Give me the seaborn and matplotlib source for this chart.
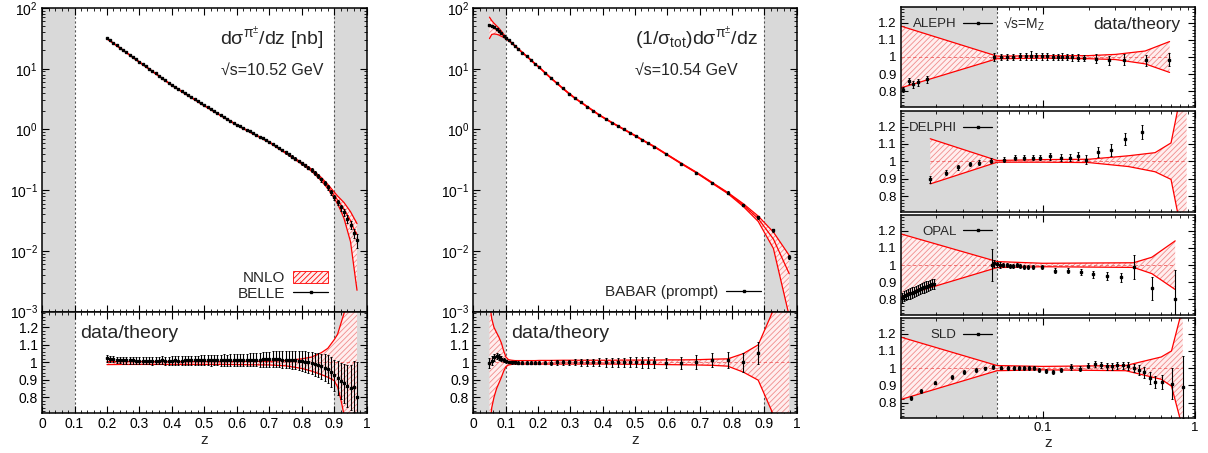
import matplotlib
matplotlib.use("Agg")
import numpy as np
import matplotlib.pyplot as plt
from matplotlib.lines import Line2D
from matplotlib.patches import Patch
from matplotlib.ticker import (FixedLocator, FuncFormatter, LogLocator,
                               MultipleLocator, NullFormatter)
import seaborn as sns

# ---------------- data ----------------
# BELLE, sqrt(s)=10.52 GeV
belle_z = [0.20, 0.21, 0.22, 0.23, 0.24, 0.25, 0.26, 0.27, 0.28, 0.29,
           0.30, 0.31, 0.32, 0.33, 0.34, 0.35, 0.36, 0.37, 0.38, 0.39,
           0.40, 0.41, 0.42, 0.43, 0.44, 0.45, 0.46, 0.47, 0.48, 0.49,
           0.50, 0.51, 0.52, 0.53, 0.54, 0.55, 0.56, 0.57, 0.58, 0.59,
           0.60, 0.61, 0.62, 0.63, 0.64, 0.65, 0.66, 0.67, 0.68, 0.69,
           0.70, 0.71, 0.72, 0.73, 0.74, 0.75, 0.76, 0.77, 0.78, 0.79,
           0.80, 0.81, 0.82, 0.83, 0.84, 0.85, 0.86, 0.87, 0.88, 0.89,
           0.90, 0.91, 0.92, 0.93, 0.94, 0.95, 0.96, 0.97]
belle_xsec = [32.0, 29.3, 26.7, 24.4, 22.3, 20.4, 18.7, 17.1, 15.6, 14.2,
              13.0, 11.9, 10.9, 10.0, 9.15, 8.38, 7.67, 7.03, 6.44, 5.90,
              5.40, 5.00, 4.63, 4.29, 3.97, 3.68, 3.40, 3.15, 2.92, 2.70,
              2.50, 2.32, 2.16, 2.00, 1.86, 1.73, 1.61, 1.49, 1.39, 1.29,
              1.20, 1.125, 1.055, 0.989, 0.927, 0.869, 0.815, 0.764, 0.716, 0.672,
              0.630, 0.581, 0.536, 0.494, 0.455, 0.420, 0.387, 0.357, 0.329, 0.303,
              0.280, 0.258, 0.236, 0.215, 0.192, 0.170, 0.150, 0.130, 0.111, 0.092,
              0.076, 0.063, 0.052, 0.043, 0.034, 0.027, 0.020, 0.015]
belle_ratio = [1.022, 1.020, 1.018, 1.015, 1.013, 1.012, 1.012, 1.011, 1.011, 1.010,
               1.010, 1.009, 1.010, 1.010, 1.009, 1.010, 1.010, 1.011, 1.010, 1.010,
               1.010, 1.011, 1.010, 1.010, 1.011, 1.012, 1.011, 1.012, 1.011, 1.012,
               1.012, 1.012, 1.011, 1.012, 1.013, 1.012, 1.013, 1.012, 1.013, 1.013,
               1.013, 1.014, 1.013, 1.014, 1.015, 1.015, 1.016, 1.016, 1.017, 1.017,
               1.018, 1.018, 1.017, 1.017, 1.016, 1.015, 1.015, 1.013, 1.012, 1.010,
               1.008, 1.004, 1.000, 0.995, 0.990, 0.985, 0.978, 0.970, 0.960, 0.945,
               0.925, 0.910, 0.895, 0.880, 0.865, 0.855, 0.860, 0.800]
belle_err = [0.018, 0.018, 0.018, 0.018, 0.019, 0.019, 0.019, 0.020, 0.020, 0.020,
             0.020, 0.021, 0.021, 0.021, 0.022, 0.022, 0.022, 0.023, 0.023, 0.023,
             0.024, 0.024, 0.025, 0.025, 0.026, 0.026, 0.027, 0.027, 0.028, 0.028,
             0.029, 0.029, 0.030, 0.030, 0.031, 0.031, 0.032, 0.032, 0.033, 0.033,
             0.034, 0.035, 0.035, 0.036, 0.037, 0.038, 0.039, 0.040, 0.041, 0.042,
             0.043, 0.044, 0.045, 0.046, 0.047, 0.048, 0.049, 0.050, 0.052, 0.054,
             0.056, 0.058, 0.060, 0.063, 0.066, 0.069, 0.072, 0.076, 0.080, 0.085,
             0.090, 0.096, 0.103, 0.110, 0.120, 0.130, 0.145, 0.200]
belle_band_z = [0.20, 0.25, 0.30, 0.35, 0.40, 0.45, 0.50, 0.55, 0.60, 0.65,
                0.70, 0.75, 0.80, 0.83, 0.86, 0.88, 0.90, 0.91, 0.92, 0.93,
                0.95, 0.97]
belle_band_lo = [0.987, 0.988, 0.988, 0.988, 0.988, 0.988, 0.988, 0.988, 0.987, 0.986,
                 0.985, 0.980, 0.965, 0.950, 0.930, 0.915, 0.895, 0.860, 0.790, 0.700,
                 0.450, 0.120]
belle_band_hi = [1.004, 1.004, 1.004, 1.004, 1.004, 1.004, 1.004, 1.004, 1.005, 1.005,
                 1.006, 1.010, 1.020, 1.030, 1.055, 1.080, 1.130, 1.160, 1.220, 1.280,
                 1.400, 1.500]

# BABAR (prompt), sqrt(s)=10.54 GeV
babar_z = [0.050, 0.057, 0.064, 0.072, 0.079, 0.087, 0.094, 0.101, 0.109, 0.119,
           0.129, 0.139, 0.152, 0.165, 0.178, 0.191, 0.204, 0.222, 0.240, 0.258,
           0.277, 0.296, 0.314, 0.333, 0.352, 0.371, 0.390, 0.409, 0.428, 0.447,
           0.466, 0.485, 0.504, 0.523, 0.541, 0.560, 0.597, 0.643, 0.690, 0.739,
           0.787, 0.835, 0.881, 0.928, 0.977]
babar_val = [52.0, 50.0, 48.0, 45.0, 42.0, 38.0, 35.0, 32.0, 29.4, 26.4,
             23.7, 21.2, 18.4, 16.0, 13.9, 12.0, 10.5, 8.5, 7.0, 5.8,
             4.73, 3.86, 3.28, 2.79, 2.38, 2.02, 1.72, 1.49, 1.30, 1.14,
             1.00, 0.88, 0.77, 0.67, 0.59, 0.52, 0.39, 0.275, 0.195, 0.133,
             0.091, 0.057, 0.036, 0.022, 0.008]
babar_ratio = [0.995, 1.010, 1.028, 1.037, 1.030, 1.020, 1.013, 1.005, 1.002, 1.000,
               1.000, 0.999, 0.999, 0.998, 0.998, 0.998, 0.998, 0.999, 0.999, 1.000,
               1.000, 1.000, 1.000, 1.000, 1.000, 1.000, 1.000, 1.000, 1.000, 1.000,
               1.000, 1.000, 1.000, 1.000, 1.000, 1.000, 0.997, 0.998, 1.000, 1.012,
               1.013, 1.000, 1.056, 1.400, 1.900]
babar_err = [0.030, 0.025, 0.020, 0.018, 0.016, 0.014, 0.012, 0.010, 0.008, 0.008,
             0.008, 0.008, 0.008, 0.008, 0.009, 0.009, 0.010, 0.011, 0.012, 0.013,
             0.015, 0.016, 0.018, 0.019, 0.020, 0.021, 0.022, 0.024, 0.025, 0.026,
             0.027, 0.028, 0.029, 0.030, 0.031, 0.032, 0.030, 0.035, 0.040, 0.040,
             0.048, 0.053, 0.063, 0.080, 0.120]
babar_band_z = [0.050, 0.057, 0.064, 0.072, 0.079, 0.087, 0.094, 0.101, 0.109, 0.119,
                0.129, 0.139, 0.152, 0.165, 0.178, 0.191, 0.204, 0.240, 0.277, 0.314,
                0.352, 0.390, 0.428, 0.466, 0.504, 0.541, 0.560, 0.597, 0.643, 0.690,
                0.739, 0.787, 0.835, 0.881, 0.928, 0.977]
babar_band_lo = [0.60, 0.74, 0.80, 0.85, 0.88, 0.915, 0.95, 0.975, 0.985, 0.988,
                 0.99, 0.99, 0.99, 0.99, 0.99, 0.99, 0.99, 0.99, 0.99, 0.99,
                 0.99, 0.99, 0.99, 0.989, 0.989, 0.988, 0.988, 0.987, 0.986, 0.985,
                 0.983, 0.978, 0.944, 0.898, 0.70, 0.20]
babar_band_hi = [1.35, 1.25, 1.20, 1.17, 1.145, 1.11, 1.065, 1.03, 1.015, 1.012,
                 1.01, 1.01, 1.01, 1.01, 1.01, 1.01, 1.011, 1.011, 1.012, 1.012,
                 1.012, 1.012, 1.012, 1.013, 1.013, 1.013, 1.013, 1.014, 1.014, 1.015,
                 1.018, 1.02, 1.05, 1.10, 1.30, 2.00]

# sqrt(s)=M_Z experiments (data/theory)
aleph_z = [0.012, 0.0131, 0.0141, 0.0152, 0.0173, 0.048, 0.0527, 0.0583, 0.0638,
           0.0706, 0.0773, 0.0837, 0.0907, 0.0985, 0.107, 0.116, 0.126, 0.133,
           0.144, 0.155, 0.170, 0.186, 0.225, 0.274, 0.343, 0.475, 0.676]
aleph_ratio = [0.81, 0.86, 0.84, 0.853, 0.87, 1.0, 1.0, 1.0, 1.0,
               1.003, 1.005, 1.008, 1.003, 1.005, 1.003, 1.0, 1.0, 1.002,
               1.0, 0.998, 0.995, 0.994, 0.99, 0.98, 0.985, 0.98, 0.985]
aleph_err = [0.015, 0.02, 0.02, 0.02, 0.02, 0.025, 0.02, 0.02, 0.02,
             0.02, 0.02, 0.025, 0.02, 0.02, 0.02, 0.02, 0.02, 0.02,
             0.02, 0.02, 0.02, 0.02, 0.025, 0.025, 0.03, 0.03, 0.04]
aleph_band_z = [0.0117, 0.05, 0.1, 0.2, 0.3, 0.47, 0.68]
aleph_band_lo = [0.82, 0.99, 0.993, 0.99, 0.985, 0.96, 0.91]
aleph_band_hi = [1.18, 1.005, 1.007, 1.008, 1.015, 1.035, 1.09]

delphi_z = [0.0182, 0.0231, 0.0279, 0.0333, 0.0382, 0.0458, 0.0557, 0.0658, 0.0757,
            0.0859, 0.096, 0.111, 0.131, 0.151, 0.171, 0.191, 0.231, 0.281, 0.348, 0.447]
delphi_ratio = [0.898, 0.935, 0.966, 0.985, 0.993, 1.003, 1.009, 1.022, 1.022,
                1.022, 1.02, 1.03, 1.02, 1.02, 1.03, 1.01, 1.054, 1.063, 1.13, 1.168]
delphi_err = [0.02, 0.015, 0.015, 0.012, 0.012, 0.015, 0.015, 0.015, 0.015,
              0.015, 0.015, 0.02, 0.02, 0.02, 0.025, 0.025, 0.03, 0.035, 0.035, 0.04]
delphi_band_z = [0.0182, 0.05, 0.1, 0.2, 0.365, 0.546, 0.695, 0.77, 0.88]
delphi_band_lo = [0.87, 0.995, 0.995, 0.993, 0.97, 0.94, 0.896, 0.70, 0.30]
delphi_band_hi = [1.13, 1.005, 1.01, 1.012, 1.032, 1.05, 1.106, 1.30, 2.00]

opal_z = [0.0119, 0.0122, 0.0126, 0.0130, 0.0134, 0.0138, 0.0142, 0.0147, 0.0151,
          0.0156, 0.0161, 0.0166, 0.0171, 0.0176, 0.0181, 0.0187, 0.0193,
          0.0463, 0.0481, 0.0503, 0.0524, 0.0551, 0.058, 0.061, 0.064, 0.0675,
          0.071, 0.0746, 0.0804, 0.0867,
          0.0985, 0.1205, 0.147, 0.178, 0.215, 0.263, 0.325, 0.394, 0.52, 0.74]
opal_ratio = [0.81, 0.82, 0.825, 0.83, 0.835, 0.84, 0.845, 0.85, 0.855,
              0.86, 0.865, 0.87, 0.875, 0.88, 0.885, 0.89, 0.89,
              1.0, 1.01, 1.005, 1.0, 1.0, 0.998, 0.995, 0.995, 1.0,
              0.995, 0.99, 0.99, 0.99,
              0.99, 0.967, 0.967, 0.961, 0.947, 0.936, 0.928, 0.986, 0.864, 0.80]
opal_err = [0.03, 0.03, 0.03, 0.03, 0.03, 0.03, 0.03, 0.03, 0.03,
            0.03, 0.03, 0.03, 0.03, 0.03, 0.03, 0.03, 0.03,
            0.09, 0.02, 0.015, 0.015, 0.012, 0.012, 0.012, 0.012, 0.012,
            0.012, 0.012, 0.012, 0.012,
            0.012, 0.015, 0.015, 0.018, 0.02, 0.025, 0.025, 0.07, 0.065, 0.17]
opal_band_z = [0.0117, 0.05, 0.1, 0.394, 0.52, 0.74]
opal_band_lo = [0.818, 0.985, 0.99, 0.986, 0.95, 0.858]
opal_band_hi = [1.18, 1.02, 1.01, 1.013, 1.045, 1.14]

sld_z = [0.0136, 0.0158, 0.0196, 0.0254, 0.0305, 0.0361, 0.0418, 0.047,
         0.053, 0.0594, 0.0648, 0.0702, 0.0753, 0.0809, 0.0868,
         0.0945, 0.105, 0.116, 0.131, 0.153, 0.176, 0.198, 0.22, 0.241, 0.263,
         0.286, 0.309, 0.335, 0.365, 0.398, 0.431, 0.465, 0.507, 0.546, 0.604,
         0.703, 0.83]
sld_ratio = [0.827, 0.866, 0.915, 0.948, 0.977, 0.989, 0.999, 1.006,
             1.003, 1.0, 1.0, 1.0, 1.0, 1.0, 1.0,
             0.99, 0.985, 0.98, 0.99, 1.007, 0.997, 1.013, 1.025, 1.018, 1.012,
             1.012, 1.016, 1.016, 1.012, 1.0, 0.99, 0.975, 0.94, 0.92, 0.92,
             0.91, 0.89]
sld_err = [0.01, 0.01, 0.01, 0.01, 0.01, 0.01, 0.01, 0.01,
           0.01, 0.01, 0.01, 0.01, 0.01, 0.01, 0.01,
           0.012, 0.012, 0.012, 0.012, 0.015, 0.015, 0.015, 0.018, 0.018, 0.02,
           0.02, 0.022, 0.022, 0.025, 0.025, 0.03, 0.03, 0.035, 0.035, 0.04,
           0.09, 0.18]
sld_band_z = [0.0117, 0.05, 0.1, 0.35, 0.6, 0.7, 0.8, 0.83]
sld_band_lo = [0.818, 0.985, 0.99, 0.985, 0.935, 0.895, 0.70, 0.50]
sld_band_hi = [1.18, 1.015, 1.01, 1.015, 1.065, 1.10, 1.30, 1.50]

# ---------------- style ----------------
sns.set_theme(style="ticks")
plt.rcParams.update({
    "font.family": ["Liberation Sans", "DejaVu Sans"],
    "mathtext.fontset": "custom",
    "mathtext.rm": "Liberation Sans",
    "mathtext.it": "Liberation Sans:italic",
    "mathtext.bf": "Liberation Sans:bold",
    "axes.edgecolor": "black",
    "axes.linewidth": 1.1,
    "xtick.color": "black", "ytick.color": "black",
    "xtick.direction": "in", "ytick.direction": "in",
    "xtick.top": True, "ytick.right": True,
    "xtick.major.size": 5, "ytick.major.size": 5,
    "xtick.minor.size": 2.5, "ytick.minor.size": 2.5,
    "xtick.major.width": 0.8, "ytick.major.width": 0.8,
    "xtick.minor.width": 0.6, "ytick.minor.width": 0.6,
    "xtick.major.pad": 3, "ytick.major.pad": 3,
    "hatch.linewidth": 0.6,
})

SHADE = "#d9d9d9"
HATCH_EDGE = "#f08c8c"
HATCH_FACE = "#ffeeee"
fmt_g = FuncFormatter(lambda v, p: f"{v:g}")


def draw_band(ax, z, lo, hi, centre=True):
    ax.fill_between(z, lo, hi, facecolor=HATCH_FACE, edgecolor=HATCH_EDGE,
                    hatch="//////", linewidth=0, zorder=1)
    for edge in (lo, hi):
        sns.lineplot(x=z, y=edge, color="red", linewidth=0.9, sort=False,
                     estimator=None, ax=ax, zorder=2)
    if centre:
        ax.hlines(1.0, z[0], z[-1], colors="#f06060", linewidth=0.6,
                  linestyles=(0, (4, 3)), zorder=2)


def draw_points(ax, z, val, err):
    ax.errorbar(z, val, yerr=err, fmt="s", ms=1.5, color="black",
                elinewidth=0.8, capsize=1.0, capthick=0.7, zorder=4)


def shade(ax, left, right, edge):
    ax.axvspan(left, right, color=SHADE, lw=0, zorder=0)
    ax.axvline(edge, color="#555555", lw=0.8, ls=(0, (2, 2)), zorder=0.5)


def ratio_axis(ax):
    ax.set_ylim(0.71, 1.29)
    ax.yaxis.set_major_locator(FixedLocator([0.8, 0.9, 1.0, 1.1, 1.2]))
    ax.yaxis.set_minor_locator(MultipleLocator(0.02))
    ax.yaxis.set_major_formatter(fmt_g)


def lin_x(ax):
    ax.set_xlim(0, 1)
    ax.xaxis.set_major_locator(MultipleLocator(0.1))
    ax.xaxis.set_minor_locator(MultipleLocator(0.02))
    ax.xaxis.set_major_formatter(fmt_g)


def log_y(ax):
    ax.set_yscale("log")
    ax.set_ylim(1e-3, 1e2)
    ax.yaxis.set_major_locator(LogLocator(base=10, numticks=10))
    ax.yaxis.set_minor_locator(LogLocator(base=10, subs=np.arange(2, 10), numticks=20))
    ax.yaxis.set_minor_formatter(NullFormatter())


def point_handle(label):
    return Line2D([], [], color="black", marker="s", ms=1.5, lw=0.9, label=label)


def energy_column(ax_top, ax_bot, z, val, ratio, err, bz, blo, bhi):
    z = np.asarray(z)
    val = np.asarray(val)
    ratio = np.asarray(ratio)
    err = np.asarray(err)
    theory = val / ratio
    idx = [int(np.argmin(np.abs(z - b))) for b in bz]
    th_nodes = theory[idx]

    for ax in (ax_top, ax_bot):
        shade(ax, 0, 0.1, 0.1)
        shade(ax, 0.9, 1.0, 0.9)
        lin_x(ax)

    draw_band(ax_top, bz, th_nodes * np.asarray(blo), th_nodes * np.asarray(bhi),
              centre=False)
    sns.lineplot(x=z, y=theory, color="red", linewidth=0.9, sort=False,
                 estimator=None, ax=ax_top, zorder=3)
    draw_points(ax_top, z, val, val * err / ratio)
    log_y(ax_top)
    ax_top.tick_params(labelbottom=False)
    ax_top.set_xlabel("")
    ax_top.set_ylabel("")

    draw_band(ax_bot, bz, blo, bhi)
    draw_points(ax_bot, z, ratio, err)
    ratio_axis(ax_bot)
    ax_bot.set_xlabel("z", fontsize=11, labelpad=1)
    ax_bot.set_ylabel("")
    ax_bot.text(0.117, 0.74, "data/theory", transform=ax_bot.transAxes,
                fontsize=14, va="baseline", ha="left")
    for ax in (ax_top, ax_bot):
        ax.tick_params(which="major", labelsize=10)


fig = plt.figure(figsize=(12.08, 4.53), dpi=100)

# ---------------- left column: BELLE ----------------
axL = fig.add_axes([0.0348, 0.312, 0.2688, 0.6704])
axLr = fig.add_axes([0.0348, 0.0883, 0.2688, 0.2237])
energy_column(axL, axLr, belle_z, belle_xsec, belle_ratio, belle_err,
              belle_band_z, belle_band_lo, belle_band_hi)
axL.text(0.866, 0.878, "dσ$^{\\mathrm{π^{±}}}$/dz [nb]", transform=axL.transAxes,
         fontsize=14, ha="right", va="baseline")
axL.text(0.866, 0.779, "√s=10.52 GeV", transform=axL.transAxes,
         fontsize=11.5, ha="right", va="baseline")
handles = [Patch(facecolor=HATCH_FACE, edgecolor="red", hatch="//////", lw=0.6,
                 label="NNLO"),
           point_handle("BELLE")]
axL.legend(handles=handles, loc="lower right", bbox_to_anchor=(0.881, 0.035),
           frameon=False, markerfirst=False, fontsize=11, handlelength=2.3,
           handleheight=0.8, handletextpad=0.5, labelspacing=0.1,
           borderaxespad=0, borderpad=0)

# ---------------- middle column: BABAR ----------------
axM = fig.add_axes([0.3918, 0.312, 0.2677, 0.6704])
axMr = fig.add_axes([0.3918, 0.0883, 0.2677, 0.2237])
energy_column(axM, axMr, babar_z, babar_val, babar_ratio, babar_err,
              babar_band_z, babar_band_lo, babar_band_hi)
axM.text(0.5, 0.878, "(1/σ$_{\\mathrm{tot}}$)dσ$^{\\mathrm{π^{±}}}$/dz",
         transform=axM.transAxes, fontsize=14, ha="left", va="baseline")
axM.text(0.5, 0.779, "√s=10.54 GeV", transform=axM.transAxes,
         fontsize=11.5, ha="left", va="baseline")
axM.legend(handles=[point_handle("BABAR (prompt)")],
           loc="lower right", bbox_to_anchor=(0.89, 0.042), frameon=False,
           markerfirst=False, fontsize=11, handlelength=2.3,
           handletextpad=0.5, borderaxespad=0, borderpad=0)

# ---------------- right column: sqrt(s)=M_Z ----------------
right_sets = [
    ("ALEPH", aleph_z, aleph_ratio, aleph_err, aleph_band_z, aleph_band_lo, aleph_band_hi),
    ("DELPHI", delphi_z, delphi_ratio, delphi_err, delphi_band_z, delphi_band_lo, delphi_band_hi),
    ("OPAL", opal_z, opal_ratio, opal_err, opal_band_z, opal_band_lo, opal_band_hi),
    ("SLD", sld_z, sld_ratio, sld_err, sld_band_z, sld_band_lo, sld_band_hi),
]
right_boxes = [[0.7459, 0.7645, 0.2434, 0.2194],
               [0.7459, 0.5327, 0.2434, 0.2223],
               [0.7459, 0.3046, 0.2434, 0.2208],
               [0.7459, 0.0773, 0.2434, 0.2201]]

for i, ((name, z, r, e, bz, blo, bhi), box) in enumerate(zip(right_sets, right_boxes)):
    ax = fig.add_axes(box)
    ax.set_xscale("log")
    shade(ax, 0.0117, 0.05, 0.05)
    draw_band(ax, bz, blo, bhi)
    draw_points(ax, z, r, e)
    ratio_axis(ax)
    ax.xaxis.set_major_locator(FixedLocator([0.01, 0.1, 1.0]))
    ax.xaxis.set_minor_locator(LogLocator(base=10, subs=np.arange(2, 10), numticks=20))
    ax.xaxis.set_major_formatter(fmt_g)
    ax.xaxis.set_minor_formatter(NullFormatter())
    ax.set_xlim(0.0117, 1.0)
    ax.set_ylabel("")
    ax.tick_params(which="major", labelsize=9.5)
    ax.legend(handles=[point_handle(name)],
              loc="center right", bbox_to_anchor=(0.31, 0.83), frameon=False,
              markerfirst=False, fontsize=9.5, handlelength=2.2,
              handletextpad=0.5, borderaxespad=0, borderpad=0)
    if i == 0:
        ax.text(0.348, 0.83, "√s=M$_{\\mathrm{Z}}$", transform=ax.transAxes,
                fontsize=10, ha="left", va="center")
        ax.text(0.949, 0.83, "data/theory", transform=ax.transAxes,
                fontsize=12.5, ha="right", va="center")
    if i < 3:
        ax.tick_params(labelbottom=False)
        ax.set_xlabel("")
    else:
        ax.set_xlabel("z", fontsize=11, labelpad=1)

fig.savefig("out.png", dpi=100)
